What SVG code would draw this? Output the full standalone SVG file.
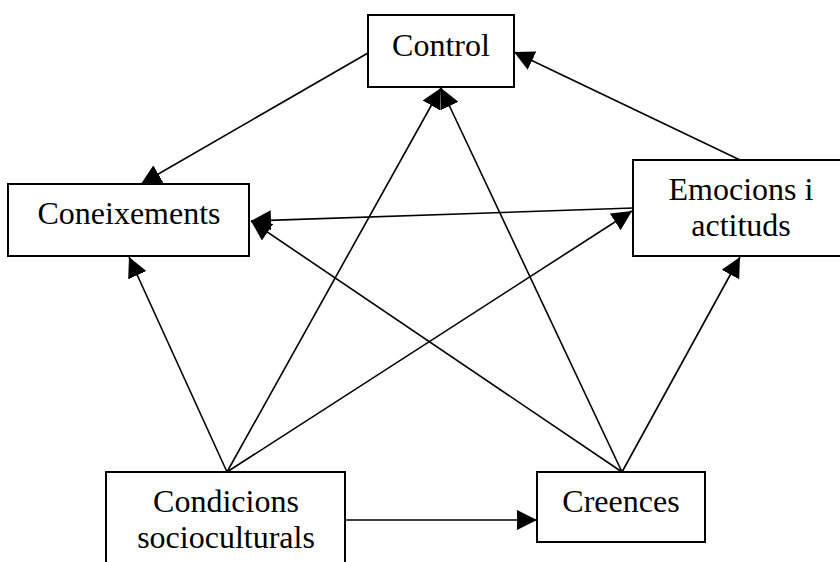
<svg xmlns="http://www.w3.org/2000/svg" width="840" height="562" viewBox="0 0 840 562">
  <style>
    .box { fill: #ffffff; stroke: #000000; stroke-width: 2; }
    .lbl { font-family: "Liberation Serif", "Times New Roman", serif; font-size: 32px; fill: #000000; text-anchor: middle; }
    .edge { stroke: #000000; stroke-width: 1.6; fill: none; marker-end: url(#head); }
  </style>
  <defs>
    <marker id="head" markerUnits="userSpaceOnUse" markerWidth="20" markerHeight="20" refX="20" refY="10" orient="auto" viewBox="0 0 20 20">
      <path d="M0,0 L20,10 L0,20 Z" fill="#000000"/>
    </marker>
  </defs>
  <rect width="840" height="562" fill="#ffffff"/>

  <g id="connectors">
    <line class="edge" x1="368" y1="53" x2="141" y2="184"/>
    <line class="edge" x1="740" y1="160" x2="514" y2="52"/>
    <line class="edge" x1="633" y1="208" x2="251" y2="221"/>
    <line class="edge" x1="227" y1="472" x2="129" y2="257"/>
    <line class="edge" x1="227" y1="472" x2="441" y2="88"/>
    <line class="edge" x1="227" y1="472" x2="632" y2="211"/>
    <line class="edge" x1="622" y1="472" x2="441" y2="88"/>
    <line class="edge" x1="622" y1="472" x2="251" y2="221"/>
    <line class="edge" x1="622" y1="472" x2="740" y2="257"/>
    <line class="edge" x1="345" y1="520" x2="537" y2="520"/>
  </g>

  <g id="control">
    <rect class="box" x="368" y="15" width="146" height="72"/>
    <text class="lbl" x="441" y="56">Control</text>
  </g>
  <g id="coneixements">
    <rect class="box" x="8" y="184" width="241" height="72"/>
    <text class="lbl" x="129" y="224">Coneixements</text>
  </g>
  <g id="emocions">
    <rect class="box" x="633" y="160" width="215" height="96"/>
    <text class="lbl" x="741" y="200">Emocions i</text>
    <text class="lbl" x="741" y="236">actituds</text>
  </g>
  <g id="condicions">
    <rect class="box" x="106" y="472" width="239" height="100"/>
    <text class="lbl" x="226" y="512">Condicions</text>
    <text class="lbl" x="226" y="548">socioculturals</text>
  </g>
  <g id="creences">
    <rect class="box" x="537" y="472" width="168" height="70"/>
    <text class="lbl" x="621" y="512">Creences</text>
  </g>
</svg>
